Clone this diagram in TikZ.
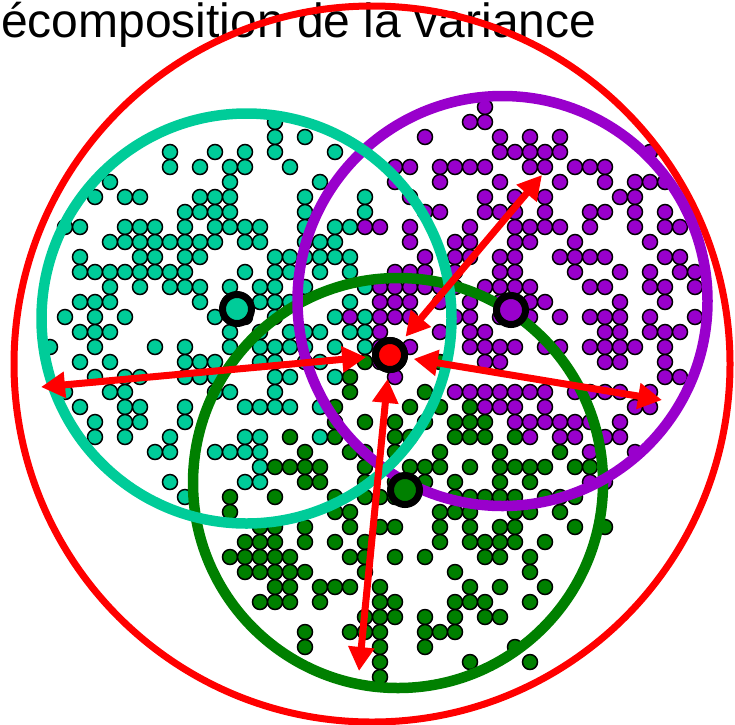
\documentclass[tikz,border=0pt]{standalone}
\usepackage{fontspec}
\setmainfont{Liberation Sans}
\usetikzlibrary{arrows.meta}
\definecolor{grp1}{RGB}{0,204,153}
\definecolor{grp2}{RGB}{153,0,204}
\definecolor{grp3}{RGB}{0,128,0}
\tikzset{
    pt/.style={draw=black, line width=1.5pt},
    ring/.style={line width=10.5pt},
    centroid/.style={circle, draw=black, line width=7pt, minimum size=29pt, inner sep=0pt},
    spread/.style={draw=red, line width=7pt,
        {Triangle[length=24pt,width=25pt]}-{Triangle[length=24pt,width=25pt]},
        shorten <=6pt},
}

\begin{document}
\begin{tikzpicture}[x=1pt, y=-1pt]
\useasboundingbox (0,0) rectangle (735,724);
\node[anchor=base west, inner sep=0pt, font=\fontsize{48}{58}\selectfont] (title) at (1,37) {écomposition de la variance};
% points of the three groups on a 15pt grid
\pgfmathsetseed{4242}
\foreach \i in {0,...,48}{
    \foreach \j in {7,...,45}{
        \pgfmathsetmacro\px{5+15*\i}
        \pgfmathsetmacro\py{2+15*\j}
        \pgfmathsetmacro\scA{veclen(\px-238,\py-311)/195+0.3*rnd}
        \pgfmathsetmacro\scB{veclen(\px-510,\py-310)/195+0.3*rnd}
        \pgfmathsetmacro\scC{veclen(\px-405,\py-490)/195+0.3*rnd}
        \pgfmathtruncatemacro\grp{\scA<\scB ? (\scA<\scC ? 1 : 3) : (\scB<\scC ? 2 : 3)}
        \pgfmathsetmacro\scMin{min(\scA,\scB,\scC)}
        \pgfmathtruncatemacro\keepPt{((\scMin<1.1) && (rnd<0.5)) ? 1 : 0}
        \ifnum\keepPt=1
            \draw[pt, fill=grp\grp] (\px,\py) circle[radius=7.5pt];
        \fi
    }
}
\draw[red, line width=7pt] (372,364) circle[radius=358pt];
\draw[ring, grp3] (398,483) circle[radius=205pt];
\draw[ring, grp2] (502.5,301) circle[radius=205pt];
\draw[ring, grp1] (246.5,318.5) circle[radius=205pt];
\node[centroid, fill=red] (g) at (390,355) {};
\coordinate (tA) at (41,387);
\coordinate (tB) at (542,175);
\coordinate (tC) at (662,400);
\coordinate (tD) at (359,671);
\draw[spread] (g) -- (tA);
\draw[spread] (g) -- (tB);
\draw[spread] (g) -- (tC);
\draw[spread] (g) -- (tD);
\node[centroid, fill=grp1] (gA) at (237,309) {};
\node[centroid, fill=grp2] (gB) at (511,310) {};
\node[centroid, fill=grp3] (gC) at (405,490) {};
\node[centroid, fill=red] at (g) {};
\end{tikzpicture}
\end{document}
